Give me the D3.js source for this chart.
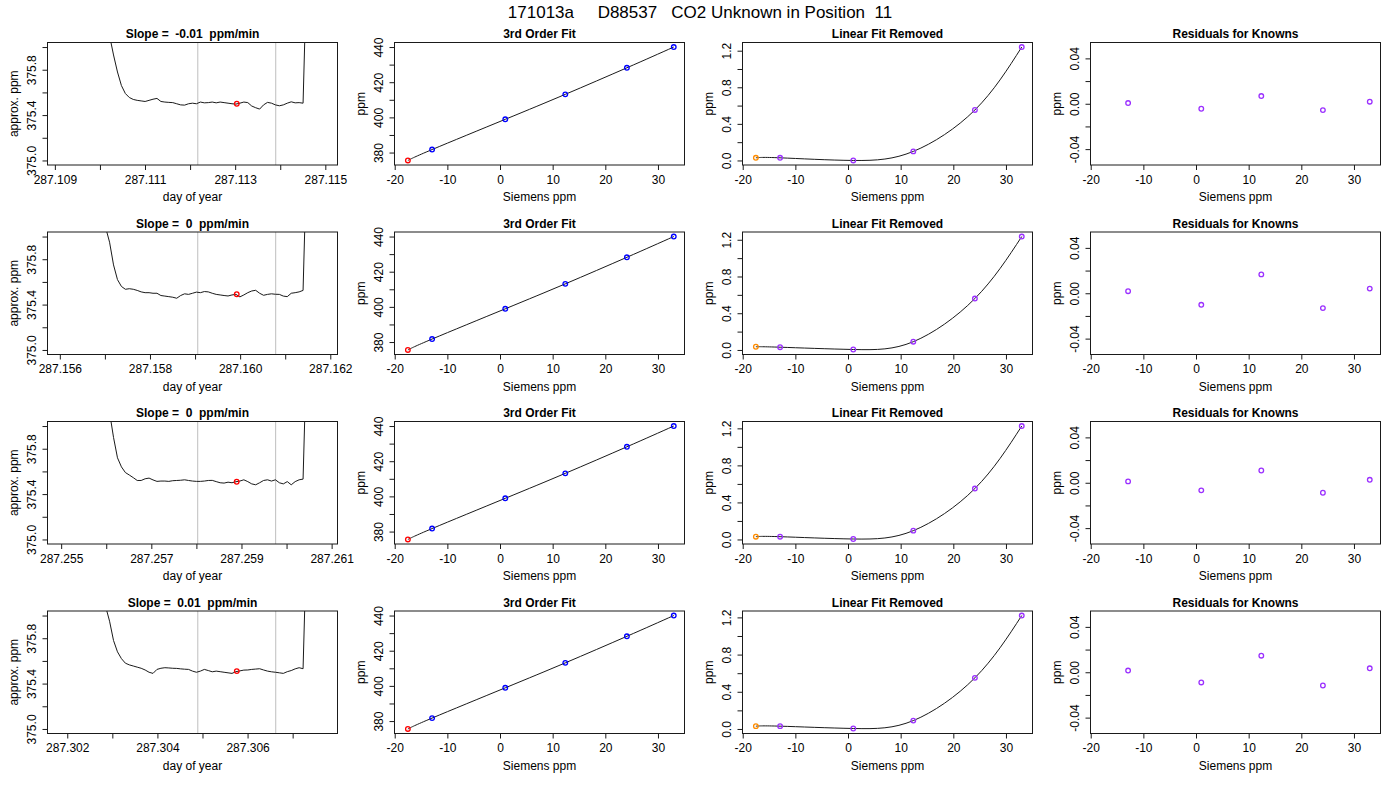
<!DOCTYPE html>
<html>
<head>
<meta charset="utf-8">
<script src="https://cdn.jsdelivr.net/npm/d3@7"></script>
<style>
  body { margin: 0; background: #fff; }
  svg { font-family: 'Liberation Sans', Arial, Helvetica, sans-serif; }
  text { white-space: pre; }
</style>
</head>
<body>
<svg id="chart" width="1400" height="800"></svg>
<script>
// ---- data ----
const mainTitle = '171013a     D88537   CO2 Unknown in Position  11';
const slopeLabels = ['-0.01', '0', '0', '0.01'];

// trace of the analyser signal, one value per sample
const seriesStart = [287.109075, 287.155965, 287.254935, 287.3018];
const seriesStep = 0.0000876;
const seriesRow1 = [381.2, 380.4, 379.7, 379.1, 378.6, 378.1, 377.7, 377.35, 377.05, 376.8, 376.6, 376.42, 376.26,
  376.10, 375.93, 375.78, 375.66, 375.59, 375.555, 375.538, 375.53, 375.525, 375.52, 375.53, 375.54, 375.547,
  375.52, 375.515, 375.512, 375.51, 375.50, 375.49, 375.488, 375.50, 375.505, 375.50, 375.515, 375.508, 375.51,
  375.515, 375.508, 375.515, 375.51, 375.505, 375.50, 375.497, 375.505, 375.515, 375.51, 375.48, 375.465,
  375.453, 375.49, 375.512, 375.505, 375.49, 375.482, 375.49, 375.505, 375.517, 375.508, 375.51, 375.505,
  376.8, 378.0, 378.9, 379.5, 379.9, 380.2];
const seriesRow2 = [380.8, 380.0, 379.3, 378.7, 378.2, 377.75, 377.35, 377.0, 376.72, 376.5, 376.32, 376.17, 376.08,
  375.95, 375.75, 375.62, 375.56, 375.535, 375.54, 375.535, 375.525, 375.512, 375.505, 375.505, 375.50, 375.50,
  375.48, 375.475, 375.47, 375.465, 375.456, 375.48, 375.495, 375.49, 375.50, 375.51, 375.505, 375.515, 375.512,
  375.50, 375.49, 375.485, 375.48, 375.476, 375.485, 375.49, 375.468, 375.485, 375.505, 375.52, 375.526,
  375.50, 375.482, 375.49, 375.495, 375.491, 375.49, 375.475, 375.47, 375.50, 375.505, 375.512, 375.525,
  376.8, 378.0, 378.9, 379.5, 379.9, 380.2];
const seriesRow3 = [381.3, 380.5, 379.8, 379.2, 378.7, 378.2, 377.8, 377.4, 377.1, 376.85, 376.62, 376.44, 376.28,
  376.12, 375.90, 375.72, 375.64, 375.59, 375.568, 375.545, 375.52, 375.52, 375.535, 375.541, 375.525, 375.512,
  375.515, 375.515, 375.512, 375.518, 375.52, 375.522, 375.526, 375.52, 375.515, 375.512, 375.512, 375.515, 375.52,
  375.521, 375.51, 375.50, 375.497, 375.505, 375.50, 375.509, 375.515, 375.526, 375.51, 375.49, 375.482,
  375.50, 375.52, 375.526, 375.515, 375.526, 375.50, 375.49, 375.51, 375.482, 375.51, 375.526, 375.532,
  376.8, 378.0, 378.9, 379.5, 379.9, 380.2];
const seriesRow4 = [380.8, 380.0, 379.3, 378.7, 378.2, 377.75, 377.35, 377.0, 376.72, 376.5, 376.32, 376.17, 376.08,
  375.95, 375.78, 375.68, 375.62, 375.58, 375.565, 375.555, 375.545, 375.535, 375.52, 375.50, 375.49, 375.525,
  375.535, 375.54, 375.538, 375.535, 375.534, 375.53, 375.527, 375.525, 375.51, 375.50, 375.51, 375.525, 375.515,
  375.504, 375.51, 375.505, 375.50, 375.495, 375.49, 375.505, 375.512, 375.519, 375.52, 375.525, 375.528,
  375.531, 375.52, 375.51, 375.504, 375.50, 375.495, 375.49, 375.505, 375.515, 375.53, 375.54, 375.531,
  376.8, 378.0, 378.9, 379.5, 379.9, 380.2];
const seriesRows = [seriesRow1, seriesRow2, seriesRow3, seriesRow4];
const traceLimits = [375.0, 376.0];

// averaging window (grey lines) and the mean of the unknown inside it
const windowStart = [287.112171, 287.15906, 287.258029, 287.304896];
const windowEnd = [287.1139, 287.160789, 287.259758, 287.306625];
const unknownTime = [287.113036, 287.159925, 287.258894, 287.305761];
const unknownMean = [375.50, 375.491, 375.509, 375.51];

// calibration: Siemens ppm vs assigned ppm
const siemensLimits = [-18, 33];
const unknownSiemens = -17.5;
const knownSiemens = [-12.9, 1.0, 12.4, 24.1, 33.0];
const knownPpm = [381.7, 398.9, 413.1, 428.2, 440.0];

// linear fit removed
const removedUnknown = [0.029, 0.035, 0.03, 0.03];
const removedKnownRow1 = [0.029, 0.0, 0.099, 0.552, 1.24];
const removedKnownRow2 = [0.03, 0.005, 0.09, 0.56, 1.235];
const removedKnownRow3 = [0.03, 0.005, 0.095, 0.55, 1.225];
const removedKnownRow4 = [0.03, 0.005, 0.09, 0.55, 1.22];
const removedKnown = [removedKnownRow1, removedKnownRow2, removedKnownRow3, removedKnownRow4];

// residuals for knowns
const residualLimits = [-0.05, 0.05];
const residualRow1 = [0.0006, -0.0044, 0.0068, -0.0056, 0.0018];
const residualRow2 = [0.0018, -0.0102, 0.0166, -0.0131, 0.0041];
const residualRow3 = [0.0012, -0.0067, 0.0108, -0.0088, 0.0026];
const residualRow4 = [0.0015, -0.009, 0.0146, -0.0117, 0.0035];
const residuals = [residualRow1, residualRow2, residualRow3, residualRow4];

// ---- layout ----
const colLeft = [47.5, 394.5, 742.5, 1090.5];
const rowTop = [42.5, 232, 421.5, 611];
const boxW = 290;
const boxH = 122.5;

const ink = '#1a1a1a';
const blue = '#0000ff';
const red = '#ff0000';
const orange = '#ff8c00';
const purple = '#9b30ff';
const grey = '#bebebe';

const loc = d3.formatLocale({ decimal: '.', thousands: ',', grouping: [3], currency: ['', ''], minus: '-' });

const svg = d3.select('#chart');

svg.append('text')
  .attr('x', 700)
  .attr('y', 18)
  .attr('text-anchor', 'middle')
  .style('font-size', '17px')
  .text(mainTitle);

// R style extension of a range by 4%
function widen(lo, hi) {
  const pad = (hi - lo) * 0.04;
  return [lo - pad, hi + pad];
}

let clipId = 0;

function panel(row, col, xDomain, yDomain, opts) {
  const left = colLeft[col];
  const top = rowTop[row];
  const x = d3.scaleLinear().domain(xDomain).range([left, left + boxW]);
  const y = d3.scaleLinear().domain(yDomain).range([top + boxH, top]);

  const g = svg.append('g');

  // x axis
  const xa = g.append('g')
    .attr('transform', `translate(0,${top + boxH})`)
    .style('font-size', '12px')
    .call(d3.axisBottom(x).ticks(opts.xTicks).tickSize(5).tickPadding(5).tickFormat(loc.format(opts.xFmt)));
  xa.select('.domain').remove();
  xa.selectAll('line').attr('stroke', ink);
  xa.selectAll('text').attr('fill', '#000').attr('font-family', null).attr('font-size', null);
  if (opts.xEvery) {
    xa.selectAll('.tick text').filter((d, i) => i % 2 === 1).remove();
  }

  // y axis, labels parallel to the axis
  const ya = g.append('g')
    .attr('transform', `translate(${left},0)`)
    .style('font-size', '12px')
    .call(d3.axisLeft(y).ticks(opts.yTicks).tickSize(5).tickFormat(loc.format(opts.yFmt)));
  ya.select('.domain').remove();
  ya.selectAll('line').attr('stroke', ink);
  ya.selectAll('.tick text')
    .attr('fill', '#000')
    .attr('font-family', null).attr('font-size', null)
    .attr('transform', 'rotate(-90)')
    .attr('x', 0)
    .attr('y', -11.5)
    .attr('dy', null)
    .attr('text-anchor', 'middle');
  ya.selectAll('.tick text').filter((d, i) => i % 2 === 1).remove();

  // titles
  g.append('text')
    .attr('x', left + boxW / 2)
    .attr('y', top - 4.5)
    .attr('text-anchor', 'middle')
    .style('font-size', '12px')
    .style('font-weight', 'bold')
    .text(opts.title);
  g.append('text')
    .attr('x', left + boxW / 2)
    .attr('y', top + boxH + 36)
    .attr('text-anchor', 'middle')
    .style('font-size', '12px')
    .text(opts.xLabel);
  g.append('text')
    .attr('transform', `translate(${left - 30},${top + boxH / 2}) rotate(-90)`)
    .attr('text-anchor', 'middle')
    .style('font-size', '12px')
    .text(opts.yLabel);

  const id = `clip${clipId++}`;
  svg.append('clipPath').attr('id', id)
    .append('rect')
    .attr('x', left).attr('y', top).attr('width', boxW).attr('height', boxH);
  const plot = g.append('g').attr('clip-path', `url(#${id})`);

  g.append('rect')
    .attr('x', left).attr('y', top).attr('width', boxW).attr('height', boxH)
    .attr('fill', 'none')
    .attr('stroke', ink);

  return { x, y, plot };
}

function circles(p, xs, ys, color) {
  p.plot.selectAll(null)
    .data(d3.zip(xs, ys))
    .enter()
    .append('circle')
    .attr('cx', (d) => p.x(d[0]))
    .attr('cy', (d) => p.y(d[1]))
    .attr('r', 2.3)
    .attr('fill', 'none')
    .attr('stroke', color)
    .attr('stroke-width', 1.3);
}

function fitLine(p, xs, ys) {
  const pts = d3.zip(xs, ys).sort((a, b) => a[0] - b[0]);
  p.plot.append('path')
    .attr('d', d3.line().x((d) => p.x(d[0])).y((d) => p.y(d[1])).curve(d3.curveNatural)(pts))
    .attr('fill', 'none')
    .attr('stroke', ink)
    .attr('stroke-width', 1);
}

const sx = widen(siemensLimits[0], siemensLimits[1]);

for (let r = 0; r < 4; r++) {
  // column 1: the trace
  const vals = seriesRows[r];
  const times = vals.map((v, i) => seriesStart[r] + i * seriesStep);
  const p1 = panel(r, 0, widen(times[0], times[times.length - 1]), widen(traceLimits[0], traceLimits[1]), {
    xTicks: 6, xFmt: '.3f', xEvery: true, yTicks: 6, yFmt: '.1f',
    title: `Slope =  ${slopeLabels[r]}  ppm/min`, xLabel: 'day of year', yLabel: 'approx. ppm',
  });
  [windowStart[r], windowEnd[r]].forEach((t) => {
    p1.plot.append('line')
      .attr('x1', p1.x(t)).attr('x2', p1.x(t))
      .attr('y1', rowTop[r]).attr('y2', rowTop[r] + boxH)
      .attr('stroke', grey);
  });
  p1.plot.append('path')
    .attr('d', d3.line().x((d, i) => p1.x(times[i])).y((d) => p1.y(d))(vals))
    .attr('fill', 'none')
    .attr('stroke', ink)
    .attr('stroke-width', 1);
  circles(p1, [unknownTime[r]], [unknownMean[r]], red);

  // column 2: 3rd order fit
  const allPpm = [unknownMean[r]].concat(knownPpm);
  const allSiemens = [unknownSiemens].concat(knownSiemens);
  const p2 = panel(r, 1, sx, widen(d3.min(allPpm), d3.max(allPpm)), {
    xTicks: 6, xFmt: 'd', yTicks: 7, yFmt: 'd',
    title: '3rd Order Fit', xLabel: 'Siemens ppm', yLabel: 'ppm',
  });
  fitLine(p2, allSiemens, allPpm);
  circles(p2, knownSiemens, knownPpm, blue);
  circles(p2, [unknownSiemens], [unknownMean[r]], red);

  // column 3: linear fit removed
  const rem = [removedUnknown[r]].concat(removedKnown[r]);
  const p3 = panel(r, 2, sx, widen(d3.min(rem.concat([0])), d3.max(rem)), {
    xTicks: 6, xFmt: 'd', yTicks: 7, yFmt: '.1f',
    title: 'Linear Fit Removed', xLabel: 'Siemens ppm', yLabel: 'ppm',
  });
  fitLine(p3, allSiemens, rem);
  circles(p3, knownSiemens, removedKnown[r], purple);
  circles(p3, [unknownSiemens], [removedUnknown[r]], orange);

  // column 4: residuals
  const p4 = panel(r, 3, sx, widen(residualLimits[0], residualLimits[1]), {
    xTicks: 6, xFmt: 'd', yTicks: 5, yFmt: '.2f',
    title: 'Residuals for Knowns', xLabel: 'Siemens ppm', yLabel: 'ppm',
  });
  circles(p4, knownSiemens, residuals[r], purple);
}
</script>
</body>
</html>
